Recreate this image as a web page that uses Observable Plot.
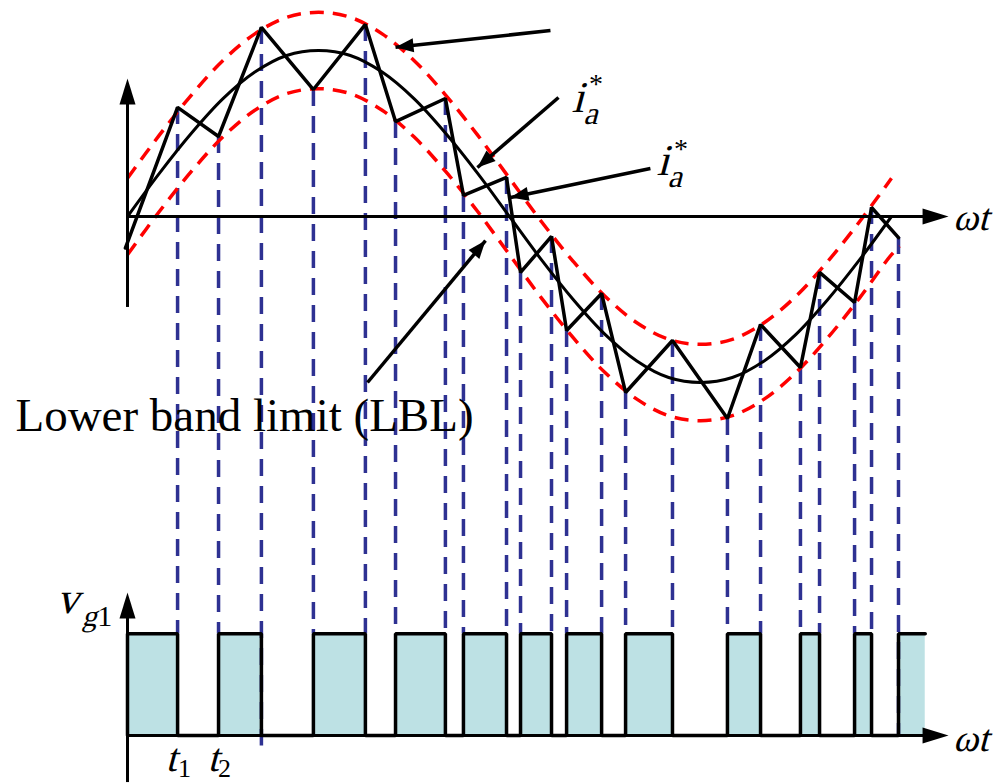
<!DOCTYPE html>
<html><head><meta charset="utf-8">
<script src="https://cdn.jsdelivr.net/npm/d3@7"></script>
<script src="https://cdn.jsdelivr.net/npm/@observablehq/plot@0.6"></script>
<style>html,body{margin:0;padding:0;background:#fff;} #chart{width:1003px;height:783px;}</style>
</head><body><div id="chart"></div>
<script>
// ---- Data (ωt in degrees, currents in per unit, gate 0/1) ----
const refAngle   = [0,15,30,45,60,75,90,105,120,135,150,165,180,195,210,225,240,255,270,285,300,315,330,345,360];
const refCurrent = [0,0.26,0.5,0.71,0.87,0.97,1,0.97,0.87,0.71,0.5,0.26,0,-0.26,-0.5,-0.71,-0.87,-0.97,-1,-0.97,-0.87,-0.71,-0.5,-0.26,0];
const upperBand  = [0.23,0.49,0.73,0.94,1.1,1.2,1.23,1.2,1.1,0.94,0.73,0.49,0.23,-0.03,-0.27,-0.48,-0.64,-0.74,-0.77,-0.74,-0.64,-0.48,-0.27,-0.03,0.23];
const lowerAngle = [0,15,30,45,60,75,90,105,120,135,150,165,180,195,210,225,240,255,270,285,300,315,330,345,360,364];
const lowerBand  = [-0.23,0.03,0.27,0.48,0.64,0.74,0.77,0.74,0.64,0.48,0.27,0.03,-0.23,-0.49,-0.73,-0.94,-1.1,-1.2,-1.23,-1.2,-1.1,-0.94,-0.73,-0.49,-0.23,-0.18];
const actualAngle   = [-1,23.6,42.9,63.1,87.6,112.1,126.3,149.8,158.3,178.6,185.2,199.8,206.9,223.4,234.7,256.8,282.7,298.3,317.1,326.1,342.6,350.6,363.3];
const actualCurrent = [-0.19,0.657,0.482,1.139,0.765,1.157,0.572,0.711,0.127,0.235,-0.337,-0.12,-0.687,-0.464,-1.06,-0.747,-1.217,-0.651,-0.91,-0.337,-0.518,0.054,-0.127];
const switchAngle = [0,0,23.6,42.9,63.1,87.6,112.1,126.3,149.8,158.3,178.6,185.2,199.8,206.9,223.4,234.7,256.8,282.7,298.3,317.1,326.1,342.6,350.6,363.3,375.9];
const gateState   = [0,1,0,1,0,1,0,1,0,1,0,1,0,1,0,1,0,1,0,1,0,1,0,1,1];
const tickLabels = ["t", "1", "t", "2"];

// ---- Layout constants ----
const W = 1003, H = 783;
const X0 = 127, PXDEG = 2.1222, Y0 = 216, PXPU = 166;
const xRange = [X0, X0 + 360 * PXDEG];
const yRange = [Y0, Y0 - PXPU];
const sx = d3.scaleLinear([0, 360], xRange);
const sy = d3.scaleLinear([0, 1], yRange);
const GATE_ZERO = -3.127, GATE_STEP = 0.614;
const gy = s => GATE_ZERO + s * GATE_STEP;
const SERIF = "Liberation Serif";

const ref = refAngle.map((a, i) => ({a, v: refCurrent[i]}));
const upper = refAngle.map((a, i) => ({a, v: upperBand[i]}));
const lower = lowerAngle.map((a, i) => ({a, v: lowerBand[i]}));
const actual = actualAngle.map((a, i) => ({a, v: actualCurrent[i]}));
const gate = switchAngle.map((a, i) => ({a, s: gateState[i]}));
const drops = actual.slice(1).map((d, i, arr) => ({
  a: d.a, top: d.v,
  bottom: i === 2 ? -3.19 : (i === arr.length - 1 ? GATE_ZERO : gy(1))
}));

const head = (len, wid) => ({draw(ctx) { ctx.moveTo(0, 0); ctx.lineTo(-wid / 2, len); ctx.lineTo(wid / 2, len); ctx.closePath(); }});
const angleOf = (x1, y1, x2, y2) => {
  const dx = sx(x2) - sx(x1), dy = sy(y2) - sy(y1);
  return Math.atan2(dx, -dy) * 180 / Math.PI;
};

const arrows = [
  {x1: 199.3, y1: 1.12, x2: 126.3, y2: 1.02},
  {x1: 203.1, y1: 0.717, x2: 164.9, y2: 0.295},
  {x1: 246.4, y1: 0.289, x2: 180.5, y2: 0.114},
  {x1: 113.1, y1: -1.0, x2: 168.7, y2: -0.145}
].map(d => ({...d, r: angleOf(d.x1, d.y1, d.x2, d.y2)}));

const axisHeads = [
  {x: 0, y: 0.831, r: 0},
  {x: 386.9, y: 0, r: 90},
  {x: 0, y: -2.265, r: 0},
  {x: 386.9, y: GATE_ZERO, r: 90}
];

const label = (x, y, text, size, italic) => Plot.text([0], {
  x: () => x, y: () => y, text: () => text, fontSize: size,
  fontFamily: SERIF, className: italic ? "it" : "up",
  textAnchor: "start", lineAnchor: "bottom", fill: "black"
});

const chart = Plot.plot({
  width: W, height: H, margin: 0,
  x: {domain: [0, 360], range: xRange, axis: null},
  y: {domain: [0, 1], range: yRange, axis: null},
  style: {background: "#fff", overflow: "visible"},
  marks: [
    Plot.areaY(gate, {x: "a", y1: GATE_ZERO, y2: d => gy(d.s), curve: "step-after", fill: "#bde1e4"}),
    Plot.ruleX(drops, {x: "a", y1: "top", y2: "bottom", stroke: "#2e3192", strokeWidth: 3.5, strokeDasharray: "17,10"}),
    Plot.line(upper, {x: "a", y: "v", curve: "catmull-rom", stroke: "#ff0000", strokeWidth: 3.5, strokeDasharray: "14,9", strokeLinecap: "butt"}),
    Plot.line(lower, {x: "a", y: "v", curve: "catmull-rom", stroke: "#ff0000", strokeWidth: 3.5, strokeDasharray: "14,9", strokeLinecap: "butt"}),
    Plot.line(ref, {x: "a", y: "v", curve: "catmull-rom", stroke: "black", strokeWidth: 3}),
    Plot.line(actual, {x: "a", y: "v", stroke: "black", strokeWidth: 3.5, strokeLinejoin: "miter"}),
    Plot.line(gate, {x: "a", y: d => gy(d.s), curve: "step-after", stroke: "black", strokeWidth: 3.5, strokeLinejoin: "miter"}),
    // axes
    Plot.ruleX([0], {y1: -0.548, y2: 0.72, stroke: "black", strokeWidth: 3}),
    Plot.ruleY([0], {x1: 0, x2: 380, stroke: "black", strokeWidth: 3}),
    Plot.ruleX([0], {y1: -3.41, y2: -2.35, stroke: "black", strokeWidth: 3}),
    Plot.ruleY([GATE_ZERO], {x1: 0, x2: 380, stroke: "black", strokeWidth: 3}),
    Plot.dot(axisHeads, {x: "x", y: "y", rotate: "r", symbol: head(26, 16), fill: "black", stroke: "none"}),
    // annotation arrows
    Plot.link(arrows, {x1: "x1", y1: "y1", x2: "x2", y2: "y2", stroke: "black", strokeWidth: 3.5}),
    Plot.dot(arrows, {x: "x2", y: "y2", rotate: "r", symbol: head(18, 14), fill: "black", stroke: "none"}),
    // labels
    label(209.2, 0.627, "i", 44, true),
    label(214.8, 0.56, "a", 32, true),
    label(217.5, 0.741, "*", 28, false),
    label(249.3, 0.247, "i", 44, true),
    label(254.4, 0.175, "a", 32, true),
    label(257.5, 0.355, "*", 28, false),
    label(389.0, -0.084, "ωt", 38, true),
    label(389.0, -3.22, "ωt", 38, true),
    label(-52.8, -1.295, "Lower band limit (LBL)", 47, false),
    label(-33.5, -2.386, "v", 44, true),
    label(-21.5, -2.464, "g", 30, true),
    label(-14.3, -2.464, "1", 30, false),
    label(17.9, -3.34, tickLabels[0], 40, true),
    label(23.8, -3.375, tickLabels[1], 26, false),
    label(37.7, -3.34, tickLabels[2], 40, true),
    label(42.6, -3.375, tickLabels[3], 26, false)
  ]
});
// slant the italic math symbols
chart.querySelectorAll("g.it text").forEach(t => {
  const tr = t.getAttribute("transform");
  if (tr) t.setAttribute("transform", tr + " skewX(-15)");
  else {
    const x = t.getAttribute("x") || 0, y = t.getAttribute("y") || 0;
    t.removeAttribute("x"); t.removeAttribute("y");
    t.setAttribute("transform", `translate(${x},${y}) skewX(-15)`);
  }
});
document.getElementById("chart").append(chart);
</script>
</body></html>
